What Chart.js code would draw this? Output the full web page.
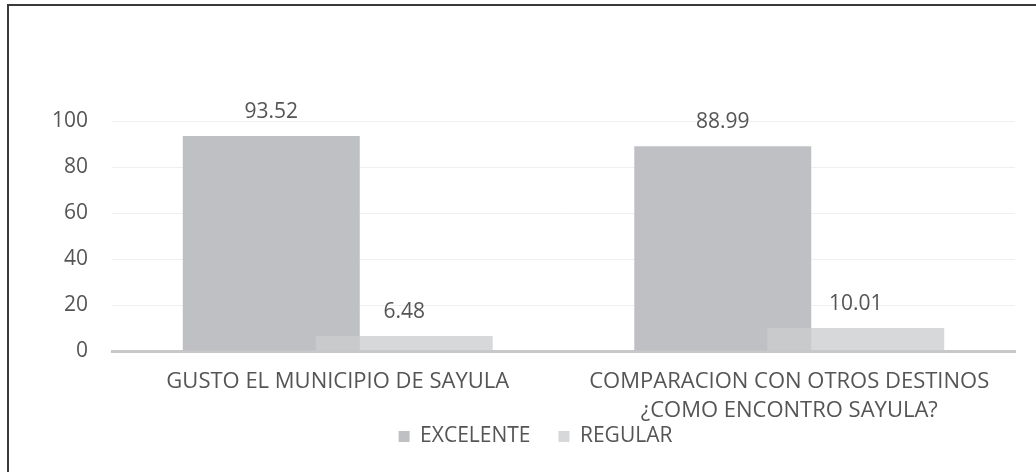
<!DOCTYPE html>
<html>
<head>
<meta charset="utf-8">
<script src="https://cdn.jsdelivr.net/npm/chart.js@4"></script>
<style>
    html, body { margin: 0; padding: 0; background: #fff; }
    #wrap { position: relative; width: 1036px; height: 472px; overflow: hidden; }
    #frame {
        position: absolute; left: 7px; top: 4px; width: 1100px; height: 600px;
        border-top: 2px solid #3a3a3a; border-left: 2px solid #3a3a3a;
        pointer-events: none;
    }
    canvas { position: absolute; left: 0; top: 0; }
</style>
</head>
<body>
<div id="wrap">
    <canvas id="chart" width="1036" height="472"></canvas>
    <div id="frame"></div>
</div>
<script>
// datos
const categorias = [
    'GUSTO EL MUNICIPIO DE SAYULA',
    ['COMPARACION CON OTROS DESTINOS', '¿COMO ENCONTRO SAYULA?']
];
const excelente = [93.52, 88.99];
const regular = [6.48, 10.01];
const ticksY = [0, 20, 40, 60, 80, 100];

const FONT = "'Open Sans', 'Noto Sans', sans-serif";
const TEXT = '#555555';

// REGULAR se dibuja encima de EXCELENTE (semitransparente, como el original)
const regularArriba = {
    id: 'regularArriba',
    beforeDatasetDraw(chart, args) {
        if (args.index === 1) return false;
    },
    afterDatasetsDraw(chart) {
        chart.getDatasetMeta(1).controller.draw();
    }
};

// etiquetas de valor sobre cada barra
const etiquetas = {
    id: 'etiquetas',
    afterDatasetsDraw(chart) {
        const ctx = chart.ctx;
        ctx.save();
        ctx.font = '21px ' + FONT;
        ctx.fillStyle = TEXT;
        ctx.textAlign = 'center';
        ctx.textBaseline = 'alphabetic';
        chart.data.datasets.forEach((ds, i) => {
            const meta = chart.getDatasetMeta(i);
            meta.data.forEach((bar, j) => {
                ctx.fillText(ds.data[j].toFixed(2), bar.x, bar.y - 18);
            });
        });
        ctx.restore();
    }
};

// acercar la leyenda a las etiquetas del eje
const moverLeyenda = {
    id: 'moverLeyenda',
    afterLayout(chart) {
        const lg = chart.legend;
        if (!lg) return;
        lg.top -= 44; lg.bottom -= 44;
        lg.left += 28; lg.right += 28;
    }
};

new Chart(document.getElementById('chart'), {
    type: 'bar',
    data: {
        labels: categorias,
        datasets: [{
            label: 'EXCELENTE',
            data: excelente,
            backgroundColor: '#bfc0c3',
            borderWidth: 0
        }, {
            label: 'REGULAR',
            data: regular,
            backgroundColor: 'rgba(203, 204, 206, 0.77)',
            borderWidth: 0
        }]
    },
    options: {
        responsive: false,
        animation: false,
        categoryPercentage: 0.589,
        barPercentage: 1.331,
        layout: { padding: { top: 121, right: 21, bottom: -29, left: 0 } },
        plugins: {
            legend: {
                position: 'bottom',
                labels: {
                    boxWidth: 11,
                    boxHeight: 11,
                    padding: 28,
                    color: TEXT,
                    font: { family: FONT, size: 21 }
                }
            },
            tooltip: { enabled: false }
        },
        scales: {
            x: {
                grid: { display: false, drawTicks: false },
                border: { display: true, color: '#c8c8c8', width: 3 },
                ticks: {
                    color: TEXT,
                    padding: 16.5,
                    maxRotation: 0,
                    autoSkip: false,
                    font: { family: FONT, size: 22, lineHeight: '29px' }
                }
            },
            y: {
                min: 0,
                max: 100,
                afterBuildTicks(scale) { scale.ticks = ticksY.map(v => ({ value: v })); },
                grid: { color: '#efefef', lineWidth: 1, drawTicks: false },
                border: { display: false },
                ticks: {
                    color: TEXT,
                    padding: 24,
                    font: { family: FONT, size: 21 }
                },
                afterFit(scale) { scale.width = 112; }
            }
        }
    },
    plugins: [regularArriba, etiquetas, moverLeyenda]
});
</script>
</body>
</html>
